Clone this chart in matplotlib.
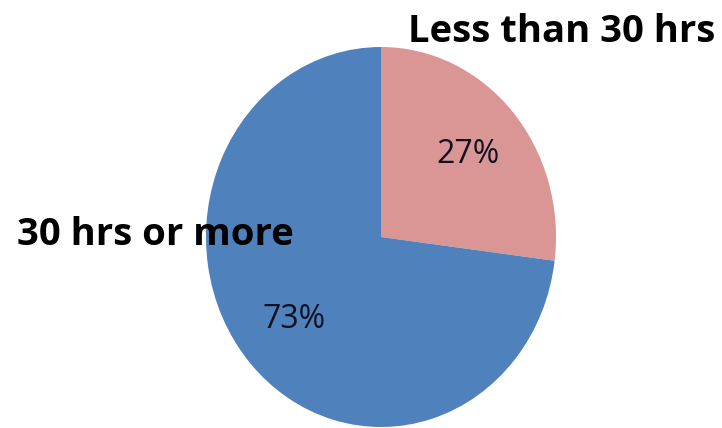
import matplotlib
matplotlib.use("Agg")
import matplotlib.pyplot as plt

labels = ["Less than 30 hrs", "30 hrs or more"]
shares = [27, 73]
colors = ["#D99694", "#4F81BD"]

W, H = 722, 428
fig = plt.figure(figsize=(W / 100, H / 100), dpi=100)

# pie is slightly taller than wide
cx, cy, rx, ry = 381, 237, 175, 190
ax = fig.add_axes([(cx - rx) / W, (H - cy - ry) / H, 2 * rx / W, 2 * ry / H])

wedges, texts, pcts = ax.pie(
    shares,
    colors=colors,
    startangle=90,
    counterclock=False,
    autopct="%d%%",
    pctdistance=0.66,
    wedgeprops=dict(linewidth=0),
    textprops=dict(fontsize=23, color="#111122", family="Open Sans"),
)
ax.set_aspect("auto")
ax.set_xlim(-1, 1)
ax.set_ylim(-1, 1)

ax.text(1.03, 1.08, labels[0], ha="center", va="center", fontsize=27.5,
        fontweight="bold", family="Open Sans", clip_on=False)
ax.text(-1.29, 0.01, labels[1], ha="center", va="center", fontsize=27.5,
        fontweight="bold", family="Open Sans", clip_on=False)

fig.savefig("out.png", dpi=100)
